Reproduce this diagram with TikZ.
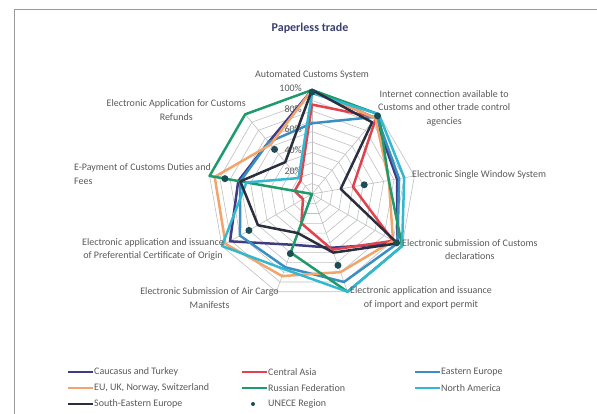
\documentclass[tikz,border=0pt]{standalone}
\usepackage{fontspec}
\setmainfont{Carlito}
\definecolor{labgray}{HTML}{595959}
\definecolor{gridgray}{HTML}{BFBFBF}
\definecolor{framegray}{HTML}{9A9A9A}
\definecolor{titleblue}{HTML}{3B3F6E}
\definecolor{caucasus}{HTML}{3D3C85}
\definecolor{centralasia}{HTML}{E0434E}
\definecolor{easteurope}{HTML}{3A8FC2}
\definecolor{euuk}{HTML}{F2A46B}
\definecolor{russia}{HTML}{1F9A6A}
\definecolor{northam}{HTML}{33B8D2}
\definecolor{seeurope}{HTML}{2B2E3F}
\definecolor{unece}{HTML}{1D4C55}
\tikzset{
  gridline/.style={draw=gridgray, line width=0.6pt},
  series/.style={line width=2.5pt, line join=round},
  axlabel/.style={inner sep=0pt, align=center},
  legend/.style={anchor=west, inner sep=1pt},
  marker/.style={fill=unece, circle, inner sep=0pt, minimum size=7pt}
}
\begin{document}
\begin{tikzpicture}[x=1pt, y=-1pt, font=\fontsize{10}{13.5}\selectfont, text=labgray]
\useasboundingbox (0,0) rectangle (597,414);
\draw[framegray, line width=1pt] (14,414) -- (14,10) -- (597,10);
\node[font=\fontsize{12}{14}\selectfont\bfseries, text=titleblue] (title) at (310,28) {Paperless trade};

\begin{scope}[shift={(312,194)}, yscale=-1]
\foreach \r in {1,...,10}
  \draw[gridline] (90:{\r*10.4}) \foreach \k in {1,...,8}{ -- ({90-40*\k}:{\r*10.4})} -- cycle;
\foreach \k in {0,...,8}
  \draw[gridline] (0,0) -- ({90-40*\k}:104);
\foreach \p in {20,40,...,100}
  \node[anchor=east, inner sep=0pt] (tick-\p) at (-10,{\p*1.04+2}) {\p\%};
\foreach \col/\vals in {
    caucasus/{100,95,83,95,55,52,91,72,65},
    centralasia/{86,96,40,90,57,30,10,17,17},
    easteurope/{68,97,85,95,90,75,80,70,65},
    euuk/{100,95,75,90,80,84,96,95,62},
    russia/{100,100,75,100,100,60,0,100,100},
    northam/{97,100,90,100,100,77,100,64,20},
    seeurope/{100,90,28,95,60,40,60,70,40}}{
  \foreach \v [count=\k from 0] in \vals
    \coordinate (\col-\k) at ({90-40*\k}:{\v*1.04});
  \draw[series, draw=\col] (\col-0) \foreach \k in {1,...,8}{ -- (\col-\k)} -- cycle;
}
\foreach \v [count=\k from 0] in {98,98,51,94,73,61,70,85,56}
  \node[marker] (unece-\k) at ({90-40*\k}:{\v*1.04}) {};
\end{scope}

\node[axlabel] (acs) at (312,75) {Automated Customs System};
\node[axlabel, anchor=west] (inet) at (378,108) {Internet connection available to\\Customs and other trade control\\agencies};
\node[axlabel, anchor=west] (esw) at (412,175) {Electronic Single Window System};
\node[axlabel, anchor=west] (decl) at (402,249.5) {Electronic submission of Customs\\declarations};
\node[axlabel, anchor=west] (perm) at (350,298) {Electronic application and issuance\\of import and export permit};
\node[axlabel, anchor=east] (air) at (279,298) {Electronic Submission of Air Cargo\\Manifests};
\node[axlabel, anchor=east] (pref) at (224,249.5) {Electronic application and issuance\\of Preferential Certificate of Origin};
\node[axlabel, anchor=east, align=left] (epay) at (211,174) {E-Payment of Customs Duties and\\Fees};
\node[axlabel, anchor=east] (refund) at (246,110) {Electronic Application for Customs\\Refunds};

\node[legend] (lg-cau) at (93,372) {Caucasus and Turkey};
\node[legend] (lg-ca) at (267,372) {Central Asia};
\node[legend] (lg-ee) at (440,372) {Eastern Europe};
\node[legend] (lg-eu) at (93,388) {EU, UK, Norway, Switzerland};
\node[legend] (lg-ru) at (267,388) {Russian Federation};
\node[legend] (lg-na) at (440,388) {North America};
\node[legend] (lg-see) at (93,404) {South-Eastern Europe};
\node[legend] (lg-un) at (267,404) {UNECE Region};
\foreach \n/\col in {cau/caucasus, ca/centralasia, ee/easteurope, eu/euuk, ru/russia, na/northam, see/seeurope}
  \draw[series, draw=\col] ([xshift=-25pt]lg-\n.west) -- (lg-\n.west);
\node[marker, minimum size=4pt] (lg-mk) at ([xshift=-14pt]lg-un.west) {};
\end{tikzpicture}
\end{document}
